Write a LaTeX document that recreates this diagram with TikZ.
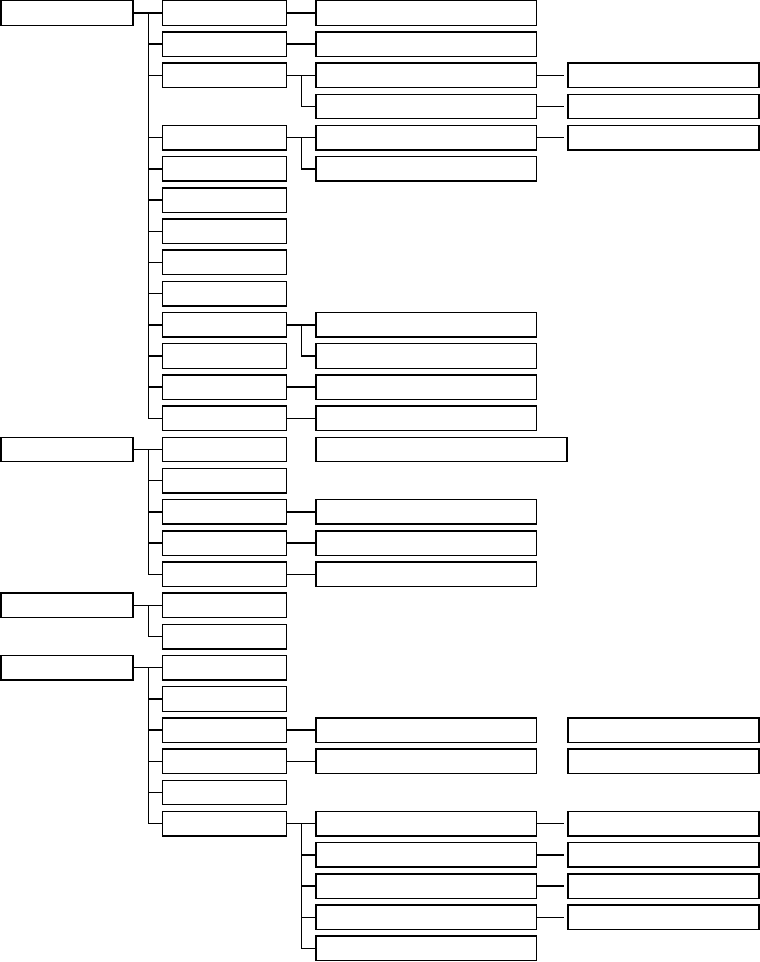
\documentclass[tikz,border=0pt]{standalone}
\tikzset{
 bx/.style={draw=black, line width=1.4pt, inner sep=0pt, minimum height=24.5pt, fill=white},
 cone/.style={bx, minimum width=132pt},
 ctwo/.style={bx, minimum width=124pt},
 cthree/.style={bx, minimum width=220.5pt},
 cfour/.style={bx, minimum width=191pt},
 cwide/.style={bx, minimum width=251pt},
 ln/.style={line width=1.4pt},
}
\begin{document}
\begin{tikzpicture}[x=1pt,y=-1pt]
\useasboundingbox (0,0) rectangle (760,962);
% column 1
\foreach \r in {1,15,20,22} {
  \pgfmathsetmacro\yy{13+31.18*(\r-1)}
  \node[cone] (A\r) at (67,\yy) {};
}
% column 2
\foreach \r in {1,2,3,5,6,7,8,9,10,11,12,13,14,15,16,17,18,19,20,21,22,23,24,25,26,27} {
  \pgfmathsetmacro\yy{13+31.18*(\r-1)}
  \node[ctwo] (B\r) at (224.5,\yy) {};
}
% column 3
\foreach \r in {1,2,3,4,5,6,11,12,13,14,17,18,19,24,25,27,28,29,30,31} {
  \pgfmathsetmacro\yy{13+31.18*(\r-1)}
  \node[cthree] (C\r) at (426.2,\yy) {};
}
\pgfmathsetmacro\yy{13+31.18*14}
\node[cwide] (C15) at (441.5,\yy) {};
% column 4
\foreach \r in {3,4,5,24,25,27,28,29,30} {
  \pgfmathsetmacro\yy{13+31.18*(\r-1)}
  \node[cfour] (D\r) at (663.5,\yy) {};
}
% connectors column 1 -> column 2
\foreach \r in {1,2,3,5,6,7,8,9,10,11,12,13,14}
  \draw[ln] (A1.east) -- ++(14.5,0) |- (B\r.west);
\foreach \r in {15,16,17,18,19}
  \draw[ln] (A15.east) -- ++(14.5,0) |- (B\r.west);
\foreach \r in {20,21}
  \draw[ln] (A20.east) -- ++(14.5,0) |- (B\r.west);
\foreach \r in {22,23,24,25,26,27}
  \draw[ln] (A22.east) -- ++(14.5,0) |- (B\r.west);
% connectors column 2 -> column 3
\foreach \p/\c in {1/1,2/2,3/3,3/4,5/5,5/6,11/11,11/12,13/13,14/14,17/17,18/18,19/19,24/24,25/25,27/27,27/28,27/29,27/30,27/31}
  \draw[ln] (B\p.east) -- ++(14.5,0) |- (C\c.west);
% connectors column 3 -> column 4
\foreach \r in {3,4,5,27,28,29,30}
  \draw[ln, shorten >=3.5pt] (C\r.east) -- (D\r.west);
\end{tikzpicture}
\end{document}
